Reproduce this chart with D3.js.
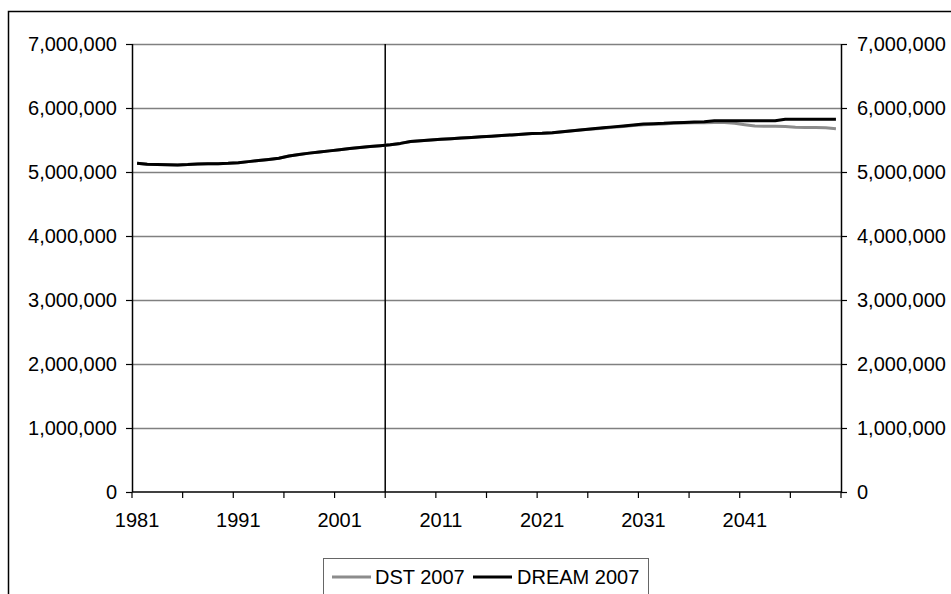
<!DOCTYPE html>
<html><head><meta charset="utf-8">
<script src="https://cdn.jsdelivr.net/npm/d3@7"></script>
<style>body{margin:0;background:#fff}svg{display:block;font-family:"Liberation Sans",Arial,sans-serif}</style>
</head><body><svg id="c" width="951" height="594"></svg>
<script>
const years = d3.range(1981, 2051);
const dream = [5.135,5.120,5.116,5.112,5.111,5.116,5.125,5.130,5.130,5.135,
 5.146,5.162,5.181,5.197,5.216,5.251,5.275,5.295,5.314,5.330,
 5.349,5.368,5.384,5.398,5.411,5.427,5.447,5.476,5.490,5.500,
 5.510,5.520,5.530,5.540,5.550,5.560,5.570,5.580,5.590,5.600,
 5.605,5.615,5.630,5.645,5.660,5.675,5.690,5.705,5.720,5.735,
 5.750,5.755,5.760,5.770,5.775,5.780,5.785,5.800,5.800,5.800,
 5.800,5.800,5.800,5.800,5.825,5.825,5.825,5.825,5.825,5.825].map(v=>v*1e6);
const dst = [5.135,5.120,5.116,5.112,5.111,5.116,5.125,5.130,5.130,5.135,
 5.146,5.162,5.181,5.197,5.216,5.251,5.275,5.295,5.314,5.330,
 5.349,5.368,5.384,5.398,5.411,5.427,5.447,5.476,5.490,5.500,
 5.510,5.520,5.530,5.540,5.550,5.560,5.570,5.580,5.590,5.600,
 5.605,5.615,5.630,5.645,5.660,5.672,5.685,5.698,5.712,5.725,
 5.740,5.745,5.750,5.760,5.765,5.770,5.770,5.775,5.775,5.760,
 5.740,5.720,5.715,5.715,5.712,5.700,5.695,5.695,5.690,5.675].map(v=>v*1e6);
const yTicks = [0,1e6,2e6,3e6,4e6,5e6,6e6,7e6];
const xLabelYears = [1981,1991,2001,2011,2021,2031,2041];
const splitYear = 2006;
const seriesNames = ["DST 2007","DREAM 2007"];
const seriesColors = ["#8c8c8c","#000000"];

const svg = d3.select("#c");
const L=132, R=841, T=44, B=492;
const FS = 20;
const x = d3.scaleBand().domain(years).range([L,R]);
const xc = yr => x(yr) + x.bandwidth()/2;
const y = d3.scaleLinear().domain([0,7e6]).range([B,T]);
const fmt = d3.format(",");

// outer border
svg.append("path").attr("d","M8.5,594 V11.5 H951").attr("fill","none").attr("stroke","#000").attr("stroke-width",1.5);

// gridlines
svg.append("g").selectAll("line").data(yTicks.filter(d=>d>0)).join("line")
  .attr("x1",L).attr("x2",R).attr("y1",d=>Math.round(y(d))+0.5).attr("y2",d=>Math.round(y(d))+0.5)
  .attr("stroke","#808080").attr("stroke-width",1.5);

// left axis
const gl = svg.append("g").attr("transform",`translate(${L},0)`)
  .call(d3.axisLeft(y).tickValues(yTicks).tickFormat(fmt).tickSize(6).tickPadding(9));
// right axis
const gr = svg.append("g").attr("transform",`translate(${R},0)`)
  .call(d3.axisRight(y).tickValues(yTicks).tickFormat(fmt).tickSize(6).tickPadding(10));
// bottom axis
const tickYears = years.filter(yr => (yr-1981)%5===0);
const gb = svg.append("g").attr("transform",`translate(0,${B})`);
gb.append("line").attr("x1",L).attr("x2",R).attr("y1",0).attr("y2",0).attr("stroke","#000").attr("stroke-width",1.5);
gb.selectAll("line.t").data(tickYears.concat([null])).join("line").attr("class","t")
  .attr("x1",d=>d===null?R:x(d)).attr("x2",d=>d===null?R:x(d)).attr("y1",0).attr("y2",6)
  .attr("stroke","#000").attr("stroke-width",1.2);
gb.selectAll("text").data(xLabelYears).join("text")
  .attr("x",d=>xc(d)).attr("y",35).attr("text-anchor","middle")
  .attr("font-size",FS).attr("fill","#000").text(d=>d);

[gl,gr].forEach(g=>{
  g.select(".domain").attr("stroke","#000").attr("stroke-width",1.5);
  g.selectAll(".tick line").attr("stroke","#000").attr("stroke-width",1.2);
  g.selectAll(".tick text").attr("font-size",FS).attr("fill","#000").attr("font-family","Liberation Sans, Arial, sans-serif");
});
gl.select(".domain").attr("d",`M0.5,${B}V${T}`);
gr.select(".domain").attr("d",`M0.5,${B}V${T}`);

// split line
svg.append("line").attr("x1",x(splitYear)).attr("x2",x(splitYear)).attr("y1",T).attr("y2",B)
  .attr("stroke","#000").attr("stroke-width",1.5);

// series
const line = d3.line().x((d,i)=>xc(years[i])).y(d=>y(d));
[dst,dream].forEach((s,i)=>{
  svg.append("path").datum(s).attr("d",line).attr("fill","none")
    .attr("stroke",seriesColors[i]).attr("stroke-width",3).attr("stroke-linejoin","round");
});

// legend
const lg = svg.append("g");
lg.append("rect").attr("x",323.5).attr("y",558.5).attr("width",325).attr("height",50)
  .attr("fill","#fff").attr("stroke","#666").attr("stroke-width",1);
const items=[{lx:332,tx:375},{lx:473,tx:517}];
items.forEach((it,i)=>{
  lg.append("line").attr("x1",it.lx).attr("x2",it.lx+39).attr("y1",577).attr("y2",577)
    .attr("stroke",seriesColors[i]).attr("stroke-width",3);
  lg.append("text").attr("x",it.tx).attr("y",584).attr("font-size",FS).attr("fill","#000").text(seriesNames[i]);
});
</script></body></html>
